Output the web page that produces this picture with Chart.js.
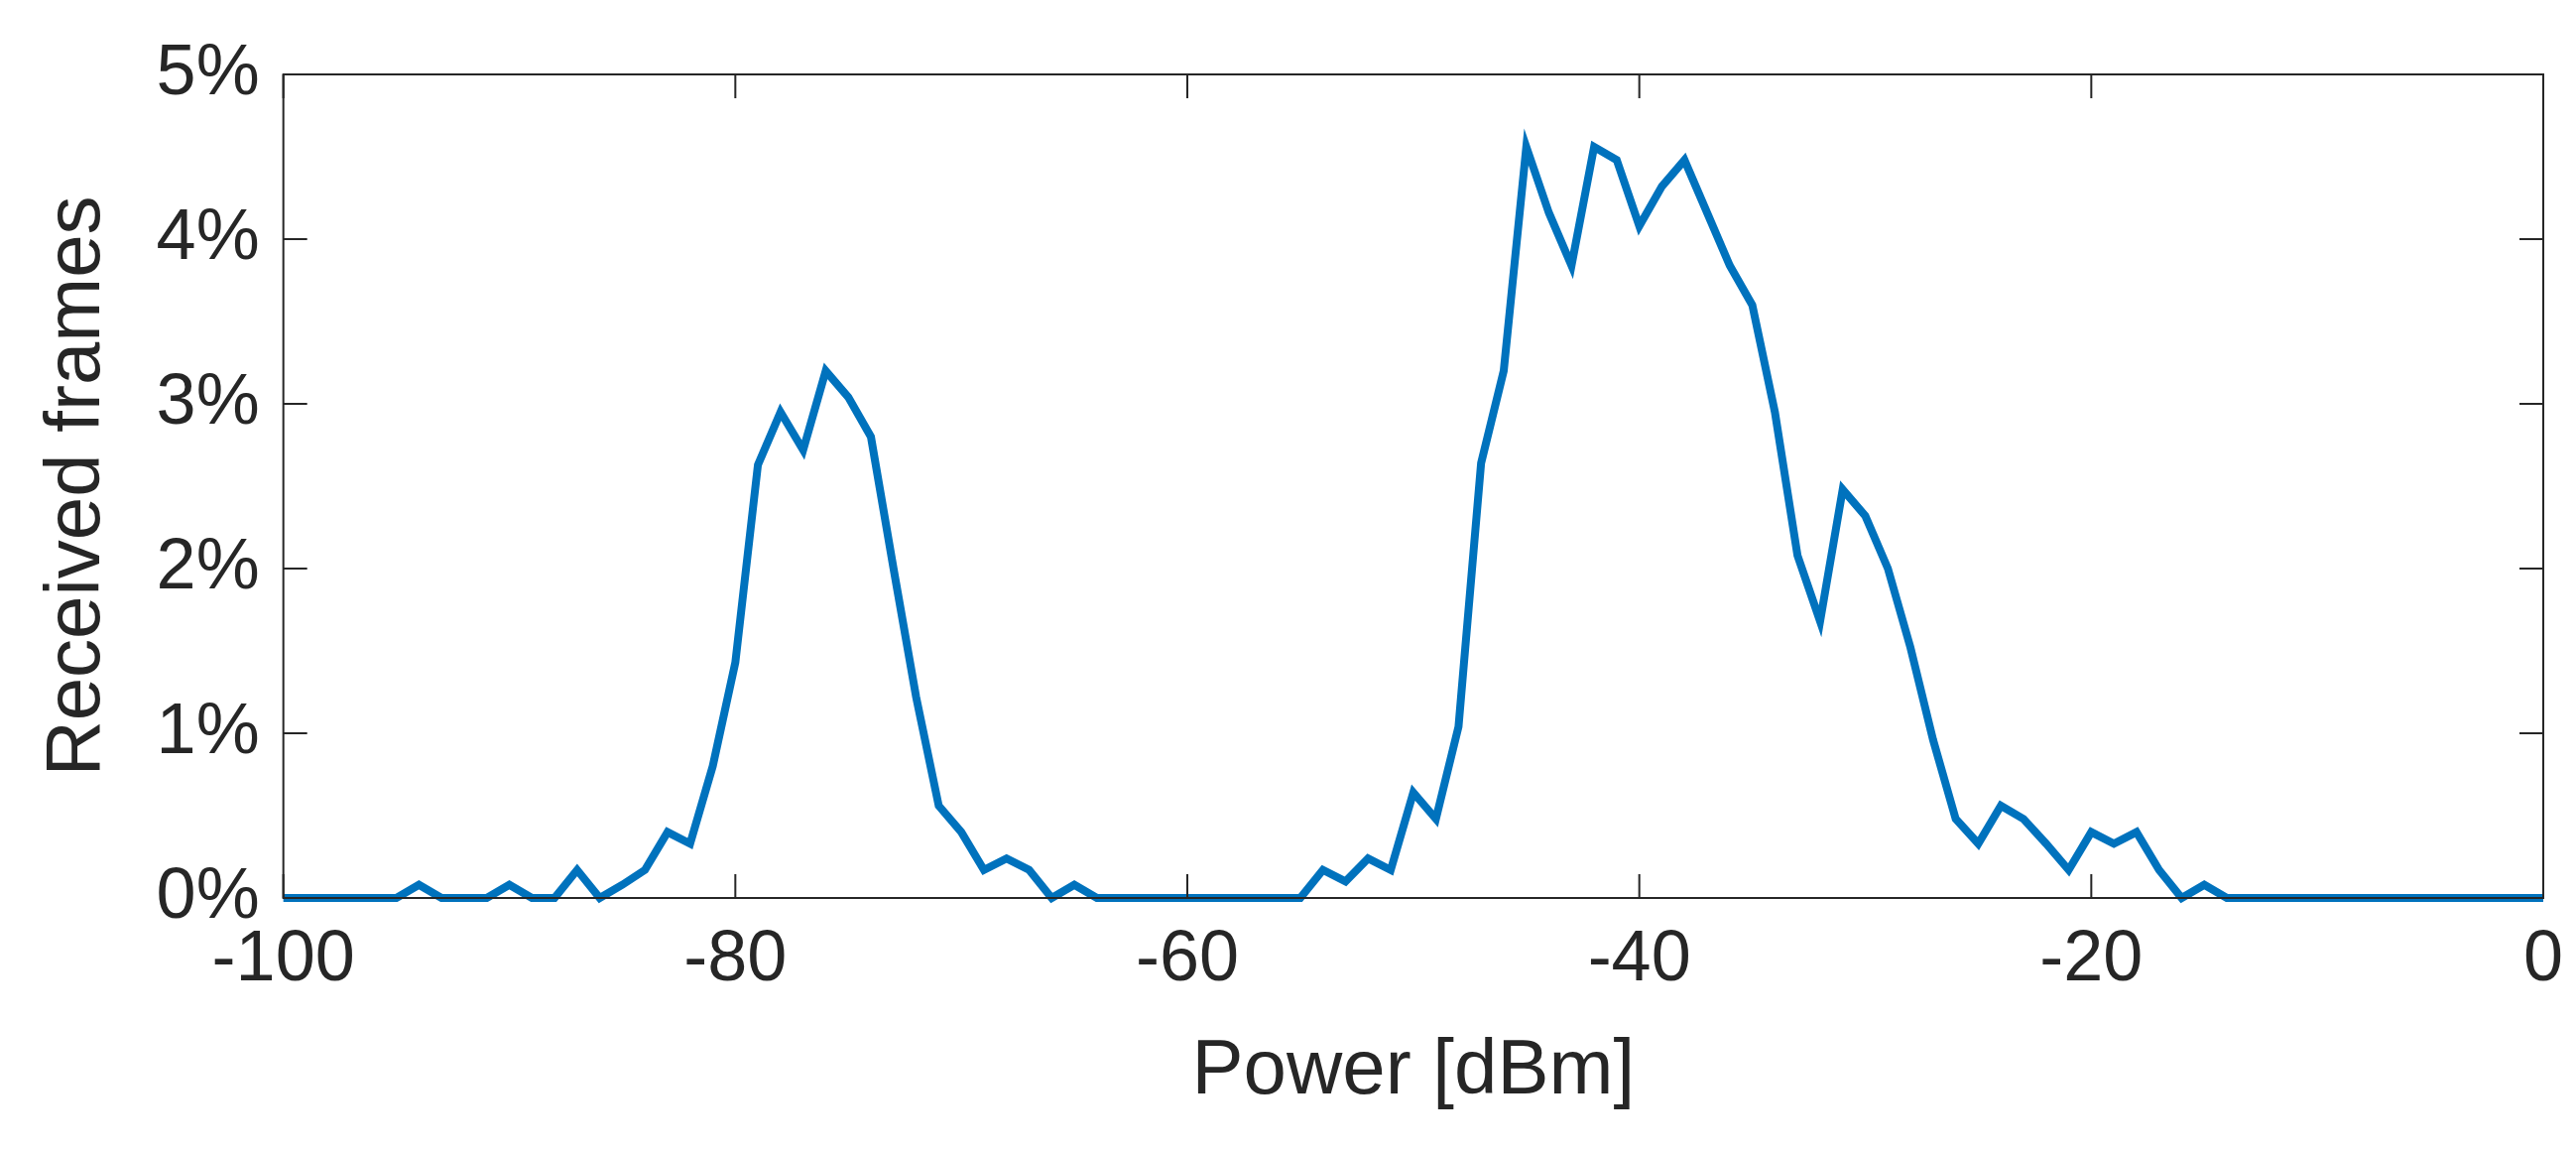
<!DOCTYPE html>
<html><head><meta charset="utf-8">
<script src="https://cdn.jsdelivr.net/npm/chart.js@4/dist/chart.umd.min.js"></script>
<style>html,body{margin:0;padding:0;background:#fff}#wrap{width:2597px;height:1161px}</style>
</head><body><div id="wrap"><canvas id="c"></canvas></div>
<script>
const powerDbm = [];
for (let p = -100; p <= 0; p++) powerDbm.push(p);
const framesPct = [
0,0,0,0,0, 0,0.08,0,0,0, 0.08,0,0,0.17,0, 0.08,0.17,0.4,0.33,0.8,
1.43,2.63,2.95,2.72,3.2, 3.04,2.8,2.0,1.22,0.56, 0.4,0.17,0.24,0.17,0, 0.08,0,0,0,0,
0,0,0,0,0, 0,0.17,0.1,0.24,0.17, 0.64,0.48,1.04,2.64,3.2, 4.56,4.16,3.84,4.56,4.48,
4.08,4.32,4.48,4.16,3.84, 3.6,2.95,2.08,1.68,2.48, 2.32,2.0,1.52,0.96,0.48, 0.33,0.56,0.48,0.33,0.17,
0.4,0.33,0.4,0.17,0, 0.08,0,0,0,0, 0,0,0,0,0, 0,0,0,0,0, 0
];
const xTicks = [-100,-80,-60,-40,-20,0];
const yTicks = [0,1,2,3,4,5];
const txt = '#262626';
const boxPlugin = {
  id:'box',
  afterDraw(ch){
    const {ctx, chartArea:a, scales:{x,y}} = ch;
    ctx.save(); ctx.strokeStyle=txt; ctx.lineWidth=2;
    ctx.strokeRect(a.left,a.top,a.right-a.left,a.bottom-a.top);
    const L=24;
    ctx.beginPath();
    xTicks.forEach(v=>{const px=x.getPixelForValue(v);ctx.moveTo(px,a.bottom);ctx.lineTo(px,a.bottom-L);ctx.moveTo(px,a.top);ctx.lineTo(px,a.top+L);});
    yTicks.forEach(v=>{const py=y.getPixelForValue(v);ctx.moveTo(a.left,py);ctx.lineTo(a.left+L,py);ctx.moveTo(a.right,py);ctx.lineTo(a.right-L,py);});
    ctx.stroke(); ctx.restore();
  }
};
new Chart(document.getElementById('c'),{
  type:'line',
  data:{datasets:[{data:powerDbm.map((p,i)=>({x:p,y:framesPct[i]})),borderColor:'#0072BD',borderWidth:8,pointRadius:0,tension:0,clip:false}]},
  options:{responsive:true,maintainAspectRatio:false,animation:false,
    layout:{padding:{left:28,right:33,top:75,bottom:30}},
    plugins:{legend:{display:false},tooltip:{enabled:false}},
    scales:{
      x:{type:'linear',min:-100,max:0,afterBuildTicks:s=>{s.ticks=xTicks.map(v=>({value:v}));},
        grid:{display:false},border:{display:false},
        ticks:{color:txt,font:{family:'Liberation Sans',size:72},padding:12,maxRotation:0},
        title:{display:true,text:'Power [dBm]',color:txt,font:{family:'Liberation Sans',size:78},padding:{top:10}}},
      y:{min:0,max:5,afterBuildTicks:s=>{s.ticks=yTicks.map(v=>({value:v}));},
        grid:{display:false},border:{display:false},
        ticks:{color:txt,font:{family:'Liberation Sans',size:72},padding:16,callback:v=>v+'%'},
        title:{display:true,text:'Received frames',color:txt,font:{family:'Liberation Sans',size:78},padding:{bottom:16}}}
    }},
  plugins:[boxPlugin]
});
</script></body></html>
